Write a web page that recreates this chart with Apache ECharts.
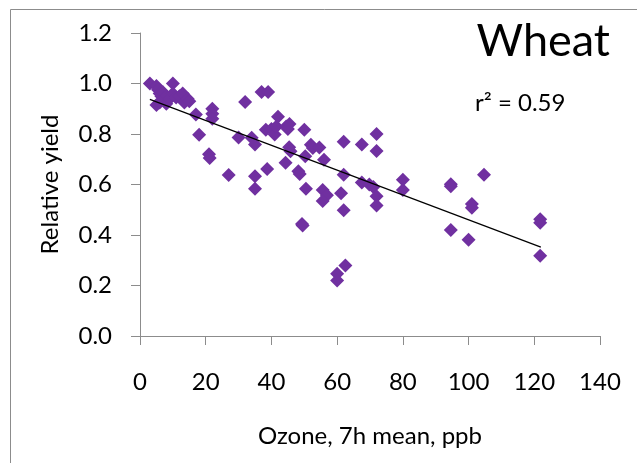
<!DOCTYPE html>
<html>
<head>
<meta charset="utf-8">
<script src="https://cdn.jsdelivr.net/npm/echarts@6/dist/echarts.min.js"></script>
<style>html,body{margin:0;padding:0;background:#fff}#c{width:637px;height:463px}</style>
</head>
<body>
<div id="c"></div>
<script>
// Ozone 7h mean (ppb) vs relative yield
const ozone = [3, 5, 5.5, 6, 6.5, 7, 7.5, 5, 6, 8, 9, 10, 10, 11, 12, 13, 13.5, 14.5, 15,
  17, 18, 21, 21.2, 22, 22, 22, 27, 30, 32, 34, 35, 35, 35, 37, 39, 38.3, 38.7,
  40, 41, 41.5, 42, 44.5, 45, 45.5, 44.3, 45.4, 45.8, 48.2, 48.6, 49.3, 49.5,
  50, 50.3, 50.5, 52, 52.6, 54.6, 56, 55.6, 56.9, 55.6, 61.2, 62, 62, 62, 60, 60, 62.5,
  67.5, 67.5, 69.8, 71, 72, 72, 72, 72, 80, 80, 94.6, 94.6, 94.6, 100, 101, 101, 104.7,
  121.8, 121.8, 121.8];
const yieldRel = [1.0, 0.99, 0.975, 0.96, 0.95, 0.965, 0.945, 0.915, 0.925, 0.92, 0.94, 1.0, 0.96, 0.945, 0.95, 0.96, 0.925, 0.94, 0.93,
  0.877, 0.797, 0.72, 0.705, 0.9, 0.88, 0.86, 0.638, 0.786, 0.927, 0.785, 0.758, 0.633, 0.583, 0.966, 0.966, 0.817, 0.661,
  0.82, 0.798, 0.83, 0.868, 0.83, 0.82, 0.84, 0.686, 0.748, 0.732, 0.652, 0.642, 0.444, 0.438,
  0.817, 0.712, 0.583, 0.757, 0.745, 0.747, 0.698, 0.578, 0.557, 0.535, 0.565, 0.769, 0.639, 0.498, 0.247, 0.22, 0.279,
  0.758, 0.608, 0.6, 0.59, 0.8, 0.733, 0.553, 0.517, 0.619, 0.578, 0.601, 0.593, 0.42, 0.381, 0.523, 0.508, 0.639,
  0.462, 0.449, 0.318];
// Linear trend line end points
const trendX = [3, 122];
const trendY = [0.937, 0.352];
const xTicks = [0, 20, 40, 60, 80, 100, 120, 140];
const yTicks = [0.0, 0.2, 0.4, 0.6, 0.8, 1.0, 1.2];

const points = ozone.map((x, i) => [x, yieldRel[i]]);
const trend = trendX.map((x, i) => [x, trendY[i]]);
const FONT = 'Lato';

const chart = echarts.init(document.getElementById('c'), null, {renderer: 'canvas'});
chart.setOption({
  animation: false,
  backgroundColor: '#fff',
  textStyle: {fontFamily: FONT},
  title: [
    {text: 'Wheat', right: 22, top: 14, textStyle: {fontFamily: FONT, fontSize: 45, fontWeight: 'normal', color: '#000'}},
    {text: 'r² = 0.59', left: 470, top: 86, textStyle: {fontFamily: FONT, fontSize: 24, fontWeight: 'normal', color: '#000'}}
  ],
  graphic: [{
    type: 'rect', silent: true, z: -1,
    shape: {x: 10.5, y: 9.5, width: 700, height: 600},
    style: {fill: null, stroke: '#8c8c8c', lineWidth: 1}
  }],
  grid: {left: 140, right: 37, top: 33, bottom: 127},
  xAxis: {
    type: 'value', min: xTicks[0], max: xTicks[xTicks.length - 1], interval: 20,
    name: 'Ozone, 7h mean, ppb', nameLocation: 'middle', nameGap: 88,
    nameTextStyle: {fontFamily: FONT, fontSize: 24, color: '#000'},
    axisLine: {show: true, onZero: false, lineStyle: {color: '#8c8c8c', width: 1}},
    axisTick: {show: true, inside: false, length: 9, lineStyle: {color: '#8c8c8c'}},
    axisLabel: {fontFamily: FONT, fontSize: 24, color: '#000', margin: 34},
    splitLine: {show: false}
  },
  yAxis: {
    type: 'value', min: yTicks[0], max: yTicks[yTicks.length - 1], interval: 0.2,
    name: 'Relative yield', nameLocation: 'middle', nameGap: 78, nameRotate: 90,
    nameTextStyle: {fontFamily: FONT, fontSize: 24, color: '#000'},
    axisLine: {show: true, lineStyle: {color: '#8c8c8c', width: 1}},
    axisTick: {show: true, inside: false, length: 9, lineStyle: {color: '#8c8c8c'}},
    axisLabel: {fontFamily: FONT, fontSize: 24, color: '#000', margin: 28, formatter: v => v.toFixed(1)},
    splitLine: {show: false}
  },
  series: [
    {
      type: 'scatter', data: points, symbol: 'diamond', symbolSize: 14,
      itemStyle: {color: '#7030a0', opacity: 1}, z: 2
    },
    {
      type: 'line', data: trend, symbol: 'none', z: 3,
      lineStyle: {color: '#000', width: 1.2}
    }
  ]
});
</script>
</body>
</html>
